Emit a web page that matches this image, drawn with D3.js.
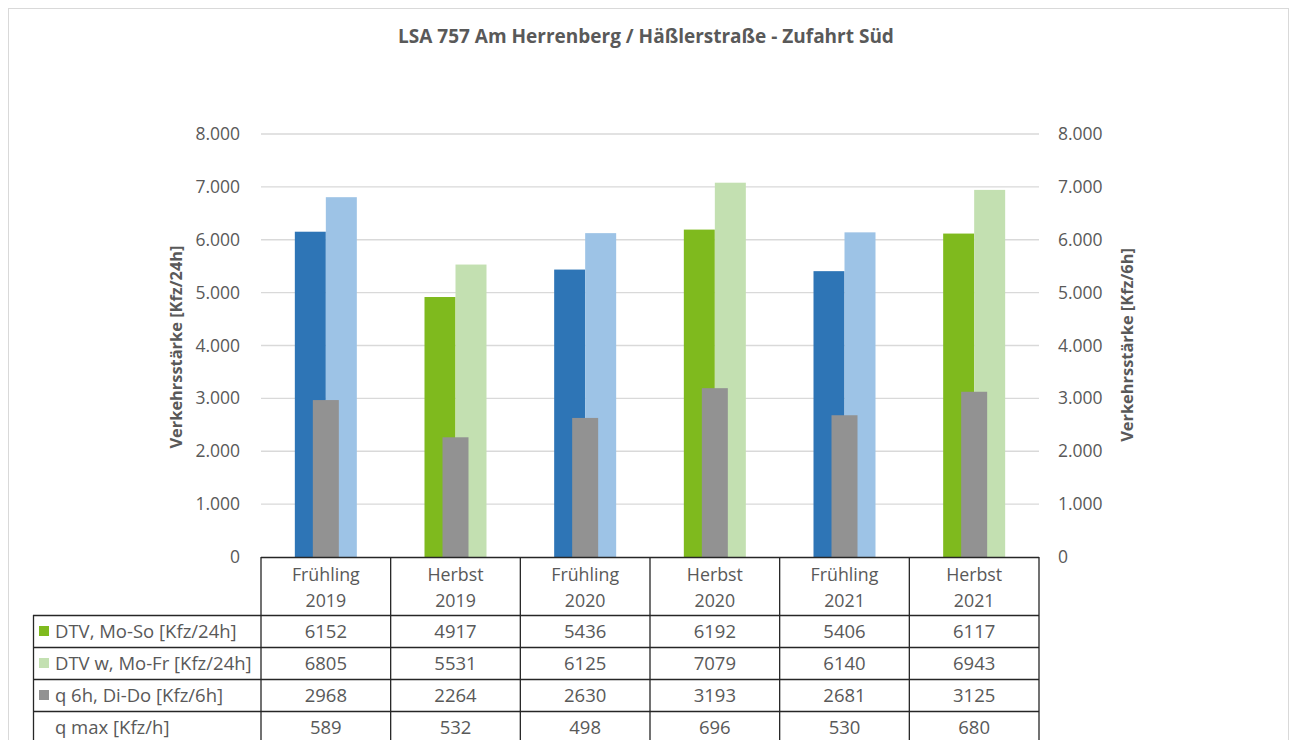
<!DOCTYPE html>
<html>
<head>
<meta charset="utf-8">
<script src="https://cdn.jsdelivr.net/npm/d3@7"></script>
<style>
  body { margin: 0; background: #fff; }
  text { font-family: "Open Sans", sans-serif; fill: #595959; }
</style>
</head>
<body>
<svg id="chart" width="1293" height="740"></svg>
<script>
var categories = ["Frühling 2019", "Herbst 2019", "Frühling 2020", "Herbst 2020", "Frühling 2021", "Herbst 2021"];
var dtv = [6152, 4917, 5436, 6192, 5406, 6117];
var dtvW = [6805, 5531, 6125, 7079, 6140, 6943];
var q6h = [2968, 2264, 2630, 3193, 2681, 3125];
var qMax = [589, 532, 498, 696, 530, 680];
var yTicks = [0, 1000, 2000, 3000, 4000, 5000, 6000, 7000, 8000];
var rowLabels = ["DTV, Mo-So [Kfz/24h]", "DTV w, Mo-Fr [Kfz/24h]", "q 6h, Di-Do [Kfz/6h]", "q max [Kfz/h]"];

var svg = d3.select("#chart");
var de = d3.formatLocale({decimal: ",", thousands: ".", grouping: [3], currency: ["", "€"]});
var fmt = de.format(",.0f");

// outer frame
svg.append("rect").attr("x", 8.5).attr("y", 8.5).attr("width", 1280).attr("height", 760)
  .attr("fill", "#fff").attr("stroke", "#d9d9d9");

svg.append("text").attr("x", 646).attr("y", 43).attr("text-anchor", "middle")
  .style("font-weight", "bold").style("font-size", "19px")
  .text("LSA 757 Am Herrenberg / Häßlerstraße - Zufahrt Süd");

var x = d3.scaleBand().domain(categories).range([261, 1039]);
var y = d3.scaleLinear().domain([0, 8000]).range([557, 134]);
var y2 = d3.scaleLinear().domain([0, 8000]).range([557, 134]);

// grid
svg.append("g").selectAll("line").data(yTicks.filter(function(d) { return d > 0; }))
  .enter().append("line")
  .attr("x1", 261).attr("x2", 1039)
  .attr("y1", function(d) { return y(d); }).attr("y2", function(d) { return y(d); })
  .attr("stroke", "#d9d9d9").attr("stroke-width", 1.3);

var ax = svg.append("g").attr("transform", "translate(261,0)")
  .call(d3.axisLeft(y).tickValues(yTicks).tickSize(0).tickPadding(21).tickFormat(fmt));
var ax2 = svg.append("g").attr("transform", "translate(1039,0)")
  .call(d3.axisRight(y2).tickValues(yTicks).tickSize(0).tickPadding(19).tickFormat(fmt));
[ax, ax2].forEach(function(a) {
  a.select(".domain").remove();
  a.selectAll("text").style("font-size", "17.5px").attr("fill", "#595959");
});

svg.append("text").attr("transform", "translate(182,347) rotate(-90)")
  .attr("text-anchor", "middle").style("font-weight", "bold").style("font-size", "16.4px")
  .text("Verkehrsstärke [Kfz/24h]");
svg.append("text").attr("transform", "translate(1133,345) rotate(-90)")
  .attr("text-anchor", "middle").style("font-weight", "bold").style("font-size", "16.4px")
  .text("Verkehrsstärke [Kfz/6h]");

function isSpring(c) { return c.indexOf("Frühling") === 0; }
var bw = 31, gw = 26;

var bars = svg.append("g");
bars.selectAll(".dtv").data(categories).enter().append("rect")
  .attr("x", function(c) { return x(c) + x.bandwidth() / 2 - bw; })
  .attr("y", function(c, i) { return y(dtv[i]); })
  .attr("width", bw)
  .attr("height", function(c, i) { return y(0) - y(dtv[i]); })
  .attr("fill", function(c) { return isSpring(c) ? "#2e75b6" : "#7fba1e"; });
bars.selectAll(".dtvw").data(categories).enter().append("rect")
  .attr("x", function(c) { return x(c) + x.bandwidth() / 2; })
  .attr("y", function(c, i) { return y(dtvW[i]); })
  .attr("width", bw)
  .attr("height", function(c, i) { return y(0) - y(dtvW[i]); })
  .attr("fill", function(c) { return isSpring(c) ? "#9dc3e6" : "#c3e0b1"; });
bars.selectAll(".q6").data(categories).enter().append("rect")
  .attr("x", function(c) { return x(c) + x.bandwidth() / 2 - gw / 2; })
  .attr("y", function(c, i) { return y2(q6h[i]); })
  .attr("width", gw)
  .attr("height", function(c, i) { return y2(0) - y2(q6h[i]); })
  .attr("fill", "#929292");

// data table
var rowTop = 615, rowH = 32, labelX = 33;
var rows = [dtv, dtvW, q6h, qMax];
var keys = ["#7fba1e", "#c3e0b1", "#929292", null];
var tbl = svg.append("g");
var lineC = "#262626";
var fs = "18.5px";

tbl.append("line").attr("x1", 261).attr("x2", 1039).attr("y1", 557.5).attr("y2", 557.5)
  .attr("stroke", lineC).attr("stroke-width", 1.3);
d3.range(rows.length + 1).forEach(function(r) {
  var yy = rowTop + r * rowH + 0.5;
  tbl.append("line").attr("x1", labelX).attr("x2", 1039).attr("y1", yy).attr("y2", yy)
    .attr("stroke", lineC).attr("stroke-width", 1.3);
});
var bounds = categories.map(function(c) { return x(c); }).concat([x.range()[1]]);
bounds.forEach(function(b) {
  tbl.append("line").attr("x1", b).attr("x2", b).attr("y1", 557).attr("y2", 760)
    .attr("stroke", lineC).attr("stroke-width", 1.3);
});
tbl.append("line").attr("x1", labelX + 0.5).attr("x2", labelX + 0.5).attr("y1", rowTop).attr("y2", 760)
  .attr("stroke", lineC).attr("stroke-width", 1.3);

categories.forEach(function(c) {
  var parts = c.split(" ");
  var t = tbl.append("text").attr("text-anchor", "middle").style("font-size", "17.8px");
  t.append("tspan").attr("x", x(c) + x.bandwidth() / 2).attr("y", 581).text(parts[0]);
  t.append("tspan").attr("x", x(c) + x.bandwidth() / 2).attr("y", 607).text(parts[1]);
});

rows.forEach(function(vals, r) {
  var cy = rowTop + r * rowH + rowH / 2;
  if (keys[r]) {
    tbl.append("rect").attr("x", 39).attr("y", cy - 5).attr("width", 10).attr("height", 10)
      .attr("fill", keys[r]);
  }
  tbl.append("text").attr("x", 55).attr("y", cy + 6.5).style("font-size", fs).text(rowLabels[r]);
  vals.forEach(function(v, i) {
    tbl.append("text").attr("x", x(categories[i]) + x.bandwidth() / 2).attr("y", cy + 6.5)
      .attr("text-anchor", "middle").style("font-size", fs).text(v);
  });
});
</script>
</body>
</html>
